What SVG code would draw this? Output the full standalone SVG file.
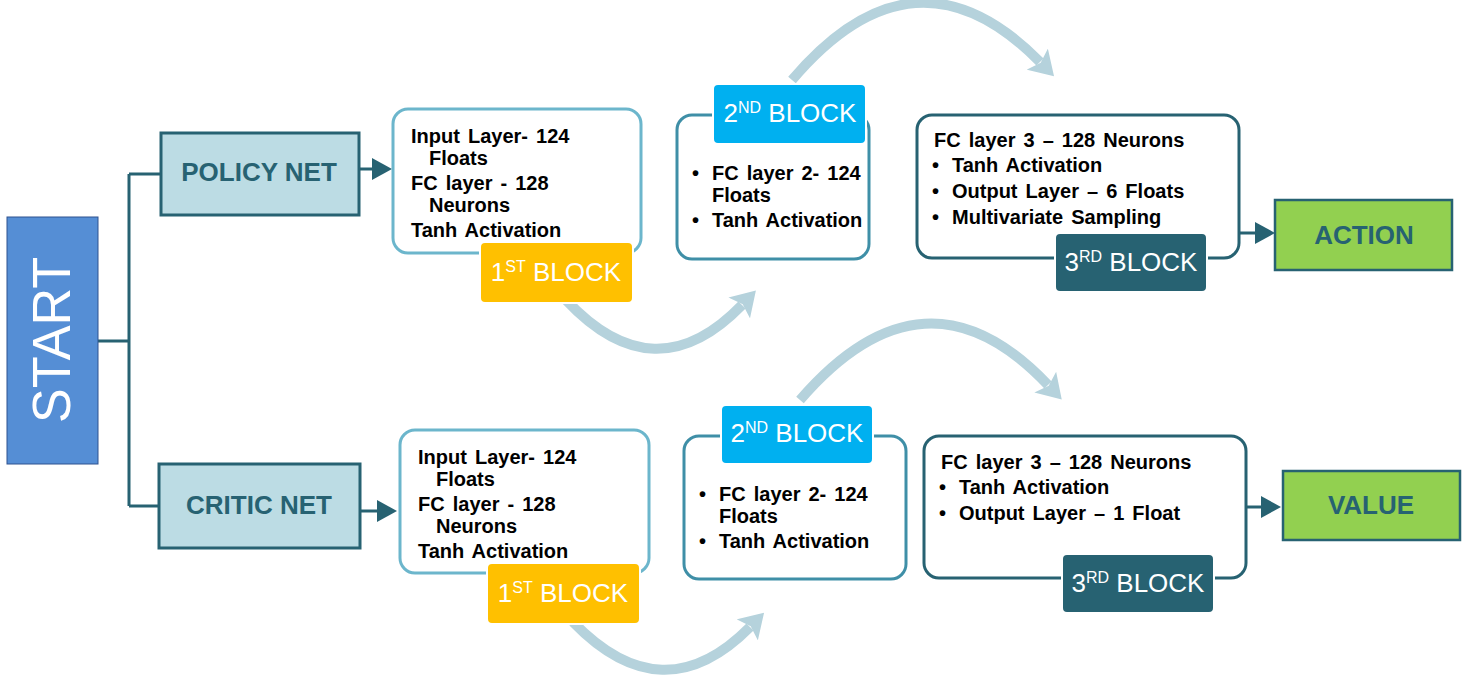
<svg xmlns="http://www.w3.org/2000/svg" width="1465" height="676" viewBox="0 0 1465 676">
<defs>
<style>
.net{fill:#BCDCE4;stroke:#276272;stroke-width:3}
.nett{font-family:"Liberation Sans",Arial,sans-serif;font-weight:bold;font-size:26px;fill:#276272;text-anchor:middle}
.out{fill:#92D050;stroke:#276272;stroke-width:2.5}
.box{fill:#fff;stroke-width:3}
.b1{stroke:#6CB6CC}
.b2{stroke:#3F8FA7}
.b3{stroke:#276272}
.tx{font-family:"Liberation Sans",Arial,sans-serif;font-weight:bold;font-size:20px;fill:#000;word-spacing:2.5px}
.lbl{stroke:#fff;stroke-width:2}
.lt{font-family:"Liberation Sans",Arial,sans-serif;font-size:26px;fill:#fff;text-anchor:middle}
.sup{font-size:16px}
.conn{fill:none;stroke:#276272;stroke-width:3}
.arc{fill:none;stroke:#B5D2DC;stroke-width:10}
</style>
<marker id="ad" markerUnits="userSpaceOnUse" viewBox="0 0 20 22" refX="2" refY="11" markerWidth="20" markerHeight="22" orient="auto"><path d="M0,0 L20,11 L0,22 z" fill="#276272"/></marker>
<marker id="al" markerUnits="userSpaceOnUse" viewBox="0 0 24 30" refX="4" refY="15" markerWidth="24" markerHeight="30" orient="auto"><path d="M0,0 L24,15 L0,30 L5,15 z" fill="#B5D2DC"/></marker>
</defs>
<g id="connectors">
<path class="conn" d="M98,341 H129 M129,174 V506 M129,174 H161 M129,506 H159"/>
<path class="conn" d="M359,169 H374" marker-end="url(#ad)"/>
<path class="conn" d="M360,511 H379" marker-end="url(#ad)"/>
<path class="conn" d="M1239,233 H1257" marker-end="url(#ad)"/>
<path class="conn" d="M1246,507 H1263" marker-end="url(#ad)"/>
<path class="arc" d="M566,300 Q655,395 742,305" marker-end="url(#al)"/>
<path class="arc" d="M792,80 Q915,-65 1040,62" marker-end="url(#al)"/>
<path class="arc" d="M573,622 Q663,715 750,627" marker-end="url(#al)"/>
<path class="arc" d="M800,400 Q925,255 1048,385" marker-end="url(#al)"/>
</g>
<g id="start">
<rect x="7" y="217" width="91" height="247" fill="#558ED5" stroke="#2F528F" stroke-width="1"/>
<text transform="translate(70,340) rotate(-90)" font-family="Liberation Sans,Arial,sans-serif" font-size="54" fill="#fff" text-anchor="middle" textLength="166" lengthAdjust="spacingAndGlyphs">START</text>
</g>
<g id="policy-net">
<rect class="net" x="161" y="133" width="198" height="82"/>
<text class="nett" x="259" y="181">POLICY NET</text>
</g>
<g id="critic-net">
<rect class="net" x="159" y="464" width="201" height="84"/>
<text class="nett" x="259" y="514">CRITIC NET</text>
</g>
<g id="policy-block1">
<rect class="box b1" x="393" y="109" width="248" height="144" rx="15"/>
<text class="tx"><tspan x="411" y="143">Input Layer- 124</tspan><tspan x="429" y="165">Floats</tspan><tspan x="411" y="190">FC layer - 128</tspan><tspan x="429" y="212">Neurons</tspan><tspan x="411" y="237">Tanh Activation</tspan></text>
<rect class="lbl" x="480" y="242" width="153" height="61" rx="5" fill="#FFC000"/>
<text class="lt" x="556" y="281">1<tspan class="sup" dy="-9">ST</tspan><tspan dy="9"> BLOCK</tspan></text>
</g>
<g id="policy-block2">
<rect class="box b2" x="677" y="115" width="192" height="144" rx="15"/>
<text class="tx"><tspan x="692" y="180">•</tspan><tspan x="712" y="180">FC layer 2- 124</tspan><tspan x="712" y="202">Floats</tspan><tspan x="692" y="227">•</tspan><tspan x="712" y="227">Tanh Activation</tspan></text>
<rect class="lbl" x="713" y="84" width="153" height="60" rx="5" fill="#00B0F0"/>
<text class="lt" x="790" y="122">2<tspan class="sup" dy="-9">ND</tspan><tspan dy="9"> BLOCK</tspan></text>
</g>
<g id="policy-block3">
<rect class="box b3" x="917" y="115" width="322" height="143" rx="15"/>
<text class="tx"><tspan x="934" y="147">FC layer 3 – 128 Neurons</tspan><tspan x="932" y="172">•</tspan><tspan x="952" y="172">Tanh Activation</tspan><tspan x="932" y="198">•</tspan><tspan x="952" y="198">Output Layer – 6 Floats</tspan><tspan x="932" y="224">•</tspan><tspan x="952" y="224">Multivariate Sampling</tspan></text>
<rect class="lbl" x="1055" y="233" width="152" height="59" rx="5" fill="#276272"/>
<text class="lt" x="1131" y="271">3<tspan class="sup" dy="-9">RD</tspan><tspan dy="9"> BLOCK</tspan></text>
</g>
<g id="action">
<rect class="out" x="1275" y="200" width="177" height="70"/>
<text class="nett" x="1364" y="244">ACTION</text>
</g>
<g id="critic-block1">
<rect class="box b1" x="400" y="430" width="249" height="143" rx="15"/>
<text class="tx"><tspan x="418" y="464">Input Layer- 124</tspan><tspan x="436" y="486">Floats</tspan><tspan x="418" y="511">FC layer - 128</tspan><tspan x="436" y="533">Neurons</tspan><tspan x="418" y="558">Tanh Activation</tspan></text>
<rect class="lbl" x="487" y="563" width="153" height="61" rx="5" fill="#FFC000"/>
<text class="lt" x="563" y="602">1<tspan class="sup" dy="-9">ST</tspan><tspan dy="9"> BLOCK</tspan></text>
</g>
<g id="critic-block2">
<rect class="box b2" x="684" y="436" width="222" height="143" rx="15"/>
<text class="tx"><tspan x="699" y="501">•</tspan><tspan x="719" y="501">FC layer 2- 124</tspan><tspan x="719" y="523">Floats</tspan><tspan x="699" y="548">•</tspan><tspan x="719" y="548">Tanh Activation</tspan></text>
<rect class="lbl" x="721" y="405" width="152" height="59" rx="5" fill="#00B0F0"/>
<text class="lt" x="797" y="442">2<tspan class="sup" dy="-9">ND</tspan><tspan dy="9"> BLOCK</tspan></text>
</g>
<g id="critic-block3">
<rect class="box b3" x="924" y="436" width="322" height="142" rx="15"/>
<text class="tx"><tspan x="941" y="469">FC layer 3 – 128 Neurons</tspan><tspan x="939" y="494">•</tspan><tspan x="959" y="494">Tanh Activation</tspan><tspan x="939" y="520">•</tspan><tspan x="959" y="520">Output Layer – 1 Float</tspan></text>
<rect class="lbl" x="1062" y="554" width="152" height="59" rx="5" fill="#276272"/>
<text class="lt" x="1138" y="592">3<tspan class="sup" dy="-9">RD</tspan><tspan dy="9"> BLOCK</tspan></text>
</g>
<g id="value">
<rect class="out" x="1283" y="471" width="177" height="69"/>
<text class="nett" x="1371" y="514">VALUE</text>
</g>
</svg>
